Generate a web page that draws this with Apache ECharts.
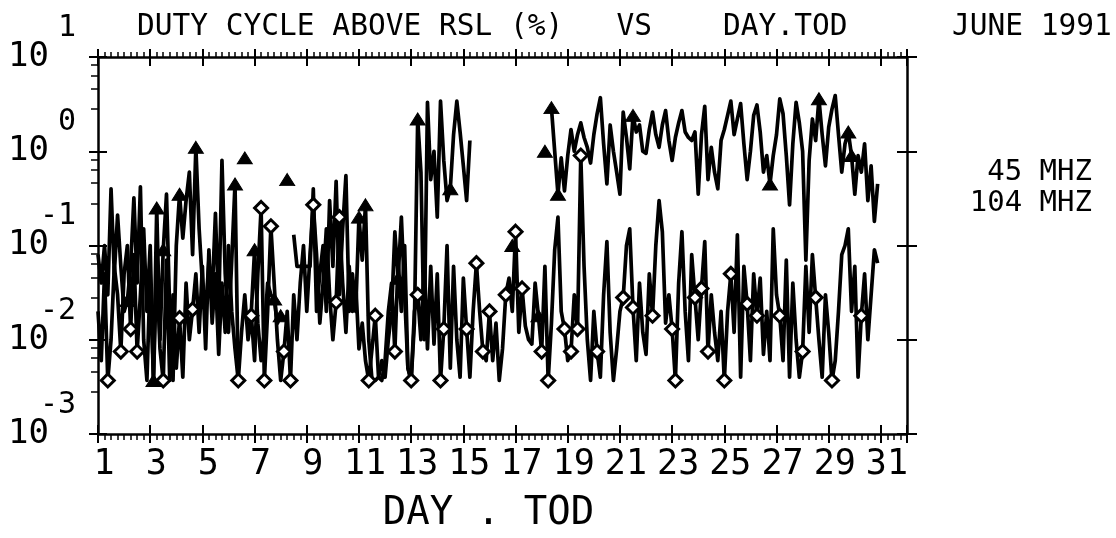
<!DOCTYPE html>
<html>
<head>
<meta charset="utf-8">
<script src="https://cdn.jsdelivr.net/npm/echarts@6.0.0/dist/echarts.min.js"></script>
<style>
html,body{margin:0;padding:0;background:#fff;}
#chart{width:1116px;height:538px;}
</style>
</head>
<body>
<div id="chart"></div>
<script>
// Sampling: 8 readings per day (3-hour steps) starting at day 1.0
const firstDay = 1;
const readingsPerDay = 8;

// 45 MHZ duty cycle above RSL (%), null = no data
const mhz45 = [
  0.08, 0.04, 0.1, 0.03, 0.4, 0.05, 0.21, 0.06, 0.02, 0.026,
  0.06, 0.32, 0.04, 0.42, 0.01, 0.0037, 0.05, 0.0037, 0.25, 0.01,
  0.09, 0.35, 0.02, 0.0037, 0.1, 0.35, 0.12, 0.3, 0.6, 0.08,
  1.1, 0.15, 0.04, 0.02, 0.07, 0.03, 0.22, 0.02, 0.8, 0.05,
  0.012, 0.07, 0.45, 0.0037, null, 0.85, null, 0.02, 0.09, 0.015,
  0.006, 0.012, 0.04, 0.03, 0.027, 0.015, 0.018, null, 0.5, null,
  0.13, 0.06, 0.06, 0.06, 0.06, 0.06, 0.4, 0.02, 0.05, 0.1,
  0.02, 0.3, 0.06, 0.48, 0.03, 0.15, 0.55, 0.02, 0.05, 0.02,
  0.2, 0.07, 0.27, 0.01, 0.0037, 0.0037, 0.004, 0.006, 0.004, 0.01,
  0.02, 0.14, 0.045, 0.2, 0.03, 0.005, 0.0037, 0.015, 2.2, 0.6,
  0.01, 3.3, 0.5, 1.0, 0.2, 3.4, 0.8, 0.3, 0.4, 1.5,
  3.4, 1.6, 0.7, 0.3, 1.3, null, null, null, null, null,
  null, null, null, null, null, null, null, 0.1, null, null,
  null, null, null, null, null, 0.018, null, 1.0, null, 2.9,
  1.0, 0.35, 0.85, 0.38, 0.9, 1.7, 1.0, 1.5, 2.0, 1.4,
  1.1, 0.75, 1.5, 2.5, 3.7, 1.2, 0.45, 1.9, 1.0, 0.6,
  0.35, 2.6, 1.4, 0.65, 2.4, 1.6, 1.9, 1.0, 0.95, 1.7,
  2.6, 1.5, 1.1, 1.9, 2.7, 1.3, 0.8, 1.4, 2.0, 2.7,
  1.6, 1.4, 1.3, 1.6, 0.35, 1.5, 3.0, 0.5, 1.1, 0.6,
  0.4, 1.3, 1.7, 2.4, 3.4, 1.5, 2.2, 3.2, 1.2, 0.5,
  1.0, 2.4, 3.1, 1.6, 0.6, 0.9, 0.45, 0.9, 1.5, 3.6,
  2.5, 0.9, 0.27, 1.2, 3.3, 2.0, 1.0, 0.07, 0.8, 2.2,
  1.3, 3.6, 1.5, 0.7, 1.8, 2.8, 3.9, 1.5, 0.6, 1.2,
  1.6, 0.9, 0.35, 0.9, 0.6, 1.2, 0.3, 0.7, 0.18, 0.45
];
// readings that carry a triangle marker
const mhz45Marks = [9, 17, 18, 20, 25, 30, 42, 45, 48, 54, 56, 58, 80, 82, 92, 98, 108,
  127, 135, 137, 139, 141, 164, 206, 221, 230, 231];

// 104 MHZ duty cycle above RSL (%)
const mhz104 = [
  0.02, 0.006, 0.05, 0.0037, 0.01, 0.06, 0.03, 0.0075, 0.05, 0.1,
  0.013, 0.08, 0.0075, 0.03, 0.15, 0.02, 0.1, 0.0037, 0.06, 0.008,
  0.0037, 0.07, 0.0037, 0.03, 0.005, 0.017, 0.004, 0.04, 0.01, 0.021,
  0.05, 0.012, 0.06, 0.008, 0.09, 0.015, 0.05, 0.007, 0.04, 0.012,
  0.1, 0.02, 0.008, 0.0037, 0.012, 0.03, 0.01, 0.018, 0.006, 0.05,
  0.25, 0.0037, 0.02, 0.16, 0.04, 0.01, 0.0037, 0.0075, 0.02, 0.0037,
  0.03, 0.01, 0.04, 0.1, 0.02, 0.08, 0.27, 0.08, 0.015, 0.04,
  0.15, 0.03, 0.01, 0.025, 0.2, 0.04, 0.012, 0.06, 0.02, 0.04,
  0.008, 0.015, 0.006, 0.0037, 0.008, 0.018, 0.004, 0.0037, 0.006, 0.02,
  0.04, 0.0075, 0.07, 0.02, 0.1, 0.005, 0.0037, 0.02, 0.03, 0.01,
  0.07, 0.008, 0.06, 0.009, 0.05, 0.0037, 0.013, 0.1, 0.005, 0.06,
  0.01, 0.004, 0.045, 0.013, 0.004, 0.02, 0.065, 0.02, 0.0075, 0.006,
  0.02, 0.006, 0.015, 0.0037, 0.008, 0.03, 0.045, 0.02, 0.14, 0.012,
  0.035, 0.014, 0.01, 0.009, 0.04, 0.018, 0.0075, 0.06, 0.0037, 0.015,
  0.09, 0.2, 0.02, 0.013, 0.006, 0.0075, 0.03, 0.013, 0.9, 0.06,
  0.01, 0.0037, 0.02, 0.0075, 0.004, 0.03, 0.11, 0.012, 0.0037, 0.008,
  0.02, 0.028, 0.1, 0.15, 0.022, 0.006, 0.04, 0.012, 0.007, 0.05,
  0.018, 0.1, 0.3, 0.14, 0.015, 0.03, 0.013, 0.0037, 0.04, 0.14,
  0.02, 0.006, 0.08, 0.028, 0.01, 0.035, 0.11, 0.0075, 0.03, 0.012,
  0.006, 0.02, 0.0037, 0.02, 0.05, 0.012, 0.13, 0.004, 0.06, 0.024,
  0.006, 0.05, 0.018, 0.045, 0.007, 0.02, 0.006, 0.15, 0.03, 0.018,
  0.006, 0.07, 0.004, 0.04, 0.01, 0.004, 0.0075, 0.06, 0.012, 0.08,
  0.028, 0.01, 0.004, 0.03, 0.012, 0.0037, 0.006, 0.02, 0.08, 0.1,
  0.15, 0.02, 0.06, 0.004, 0.018, 0.05, 0.01, 0.03, 0.09, 0.065
];
// readings that carry a diamond marker
const mhz104Marks = [3, 7, 10, 12, 20, 25, 29, 43, 47, 50, 51, 53, 57, 59, 66, 73, 74, 83, 85,
  91, 96, 98, 105, 106, 113, 116, 118, 120, 125, 128, 130, 136, 138, 143, 145, 147, 148, 153,
  161, 164, 170, 176, 177, 183, 185, 187, 192, 194, 199, 202, 209, 216, 220, 225, 234];

const seriesNames = ['45 MHZ', '104 MHZ'];
const titleText = 'DUTY CYCLE ABOVE RSL (%)   VS    DAY.TOD';
const dateText = 'JUNE 1991';
const xName = 'DAY . TOD';

const FONT = 'DejaVu Sans Mono';
const BLACK = '#000';

function toPoints(vals) {
  return vals.map((v, i) => [firstDay + i / readingsPerDay, v === null ? '-' : v]);
}

const xBase = { type: 'value', min: 1, max: 32, interval: 2, splitLine: { show: false } };
const yBase = { type: 'log', logBase: 10, min: 0.001, max: 10, splitLine: { show: false }, minorSplitLine: { show: false } };
const lineSty = { color: BLACK, width: 2 };

const option = {
  animation: false,
  backgroundColor: '#fff',
  textStyle: { fontFamily: FONT, color: BLACK },
  title: [
    { text: titleText, left: 132, top: 7, textStyle: { fontFamily: FONT, fontSize: 29.5, fontWeight: 'normal', color: BLACK } },
    { text: dateText, left: 947, top: 7, textStyle: { fontFamily: FONT, fontSize: 29.5, fontWeight: 'normal', color: BLACK } }
  ],
  legend: [
    { data: [seriesNames[0]], orient: 'vertical', right: 18, top: 158, padding: 0, itemWidth: 0, itemHeight: 0, align: 'right', selectedMode: false,
      textStyle: { fontFamily: FONT, fontSize: 29, color: BLACK } },
    { data: [seriesNames[1]], orient: 'vertical', right: 18, top: 189, padding: 0, itemWidth: 0, itemHeight: 0, align: 'right', selectedMode: false,
      textStyle: { fontFamily: FONT, fontSize: 29, color: BLACK } }
  ],
  grid: { left: 98, right: 209, top: 57, bottom: 95 },
  xAxis: [
    Object.assign({}, xBase, {
      position: 'bottom',
      axisLine: { lineStyle: { color: BLACK, width: 2.5 } },
      axisTick: { length: 9, lineStyle: lineSty },
      minorTick: { show: true, splitNumber: 8, length: 6, lineStyle: { color: BLACK, width: 1.5 } },
      axisLabel: { showMaxLabel: false, margin: 13, fontFamily: FONT, fontSize: 35, color: BLACK, padding: [0, 0, 0, 12] },
      name: xName, nameLocation: 'middle', nameGap: 60,
      nameTextStyle: { fontFamily: FONT, fontSize: 39, color: BLACK, padding: [0, 28, 0, 0] }
    }),
    Object.assign({}, xBase, {
      position: 'bottom', axisLine: { show: false },
      axisTick: { inside: true, length: 9, lineStyle: lineSty }, axisLabel: { show: false }
    }),
    Object.assign({}, xBase, {
      position: 'top',
      axisLine: { lineStyle: { color: BLACK, width: 2.5 } },
      axisTick: { length: 8, lineStyle: lineSty },
      minorTick: { show: true, splitNumber: 8, length: 5, lineStyle: { color: BLACK, width: 1.5 } },
      axisLabel: { show: false }
    }),
    Object.assign({}, xBase, {
      position: 'top', axisLine: { show: false },
      axisTick: { inside: true, length: 9, lineStyle: lineSty }, axisLabel: { show: false }
    })
  ],
  yAxis: [
    Object.assign({}, yBase, {
      position: 'left',
      axisLine: { lineStyle: { color: BLACK, width: 2.5 } },
      axisTick: { length: 9, lineStyle: lineSty },
      minorTick: { show: true, splitNumber: 5, length: 7, lineStyle: { color: BLACK, width: 1.5 } },
      axisLabel: {
        margin: 22, align: 'right', color: BLACK, fontFamily: FONT,
        formatter: function (v) {
          const e = Math.round(Math.log10(v));
          return '{e|' + e + '}\n{b|10}\n{s| }';
        },
        rich: {
          e: { fontFamily: FONT, fontSize: 30, lineHeight: 29, color: BLACK, align: 'right' },
          b: { fontFamily: FONT, fontSize: 34, lineHeight: 29, color: BLACK, align: 'right', padding: [0, 27, 0, 0] },
          s: { fontFamily: FONT, fontSize: 30, lineHeight: 29, align: 'right' }
        }
      }
    }),
    Object.assign({}, yBase, {
      position: 'left', axisLine: { show: false },
      axisTick: { inside: true, length: 9, lineStyle: lineSty }, axisLabel: { show: false }
    }),
    Object.assign({}, yBase, {
      position: 'right',
      axisLine: { lineStyle: { color: BLACK, width: 2.5 } },
      axisTick: { length: 10, lineStyle: lineSty }, axisLabel: { show: false }
    }),
    Object.assign({}, yBase, {
      position: 'right', axisLine: { show: false },
      axisTick: { inside: true, length: 10, lineStyle: lineSty }, axisLabel: { show: false }
    })
  ],
  series: [
    {
      name: seriesNames[0], type: 'line', xAxisIndex: 0, yAxisIndex: 0,
      data: toPoints(mhz45), connectNulls: false,
      symbol: 'triangle', showSymbol: true, showAllSymbol: true,
      symbolSize: function (v, p) { return mhz45Marks.indexOf(p.dataIndex) >= 0 ? [15, 12] : 0; },
      lineStyle: { color: BLACK, width: 3.7, join: 'round' },
      itemStyle: { color: BLACK, borderColor: BLACK, borderWidth: 1 },
      emphasis: { disabled: true }, z: 3
    },
    {
      name: seriesNames[1], type: 'line', xAxisIndex: 0, yAxisIndex: 0,
      data: toPoints(mhz104), connectNulls: false,
      symbol: 'diamond', showSymbol: true, showAllSymbol: true,
      symbolSize: function (v, p) { return mhz104Marks.indexOf(p.dataIndex) >= 0 ? [13, 13] : 0; },
      lineStyle: { color: BLACK, width: 3.7, join: 'round' },
      itemStyle: { color: '#fff', borderColor: BLACK, borderWidth: 3 },
      emphasis: { disabled: true }, z: 4
    }
  ]
};

const chart = echarts.init(document.getElementById('chart'), null, { renderer: 'canvas' });
chart.setOption(option);
</script>
</body>
</html>
